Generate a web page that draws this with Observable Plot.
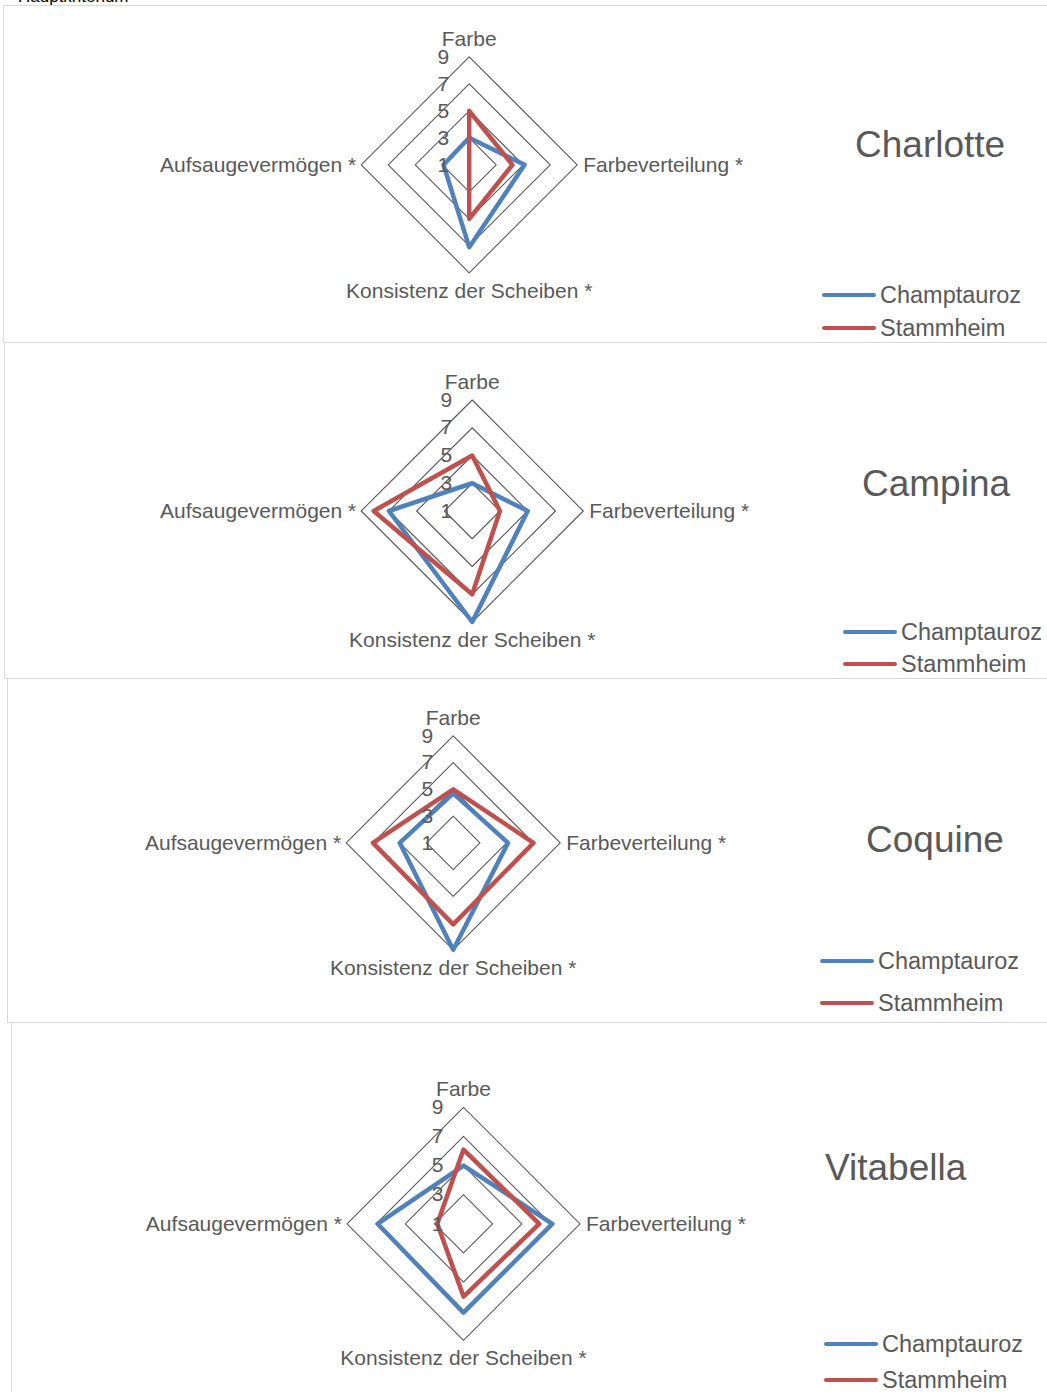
<!DOCTYPE html>
<html>
<head>
<meta charset="utf-8">
<script src="https://cdn.jsdelivr.net/npm/d3@7"></script>
<script src="https://cdn.jsdelivr.net/npm/@observablehq/plot@0.6"></script>
<style>
  html, body { margin: 0; padding: 0; background: #fff; }
  body { width: 1047px; height: 1392px; overflow: hidden; position: relative; font-family: "Liberation Sans", Arial, sans-serif; }
  .panel { position: absolute; border: 1px solid #d9d9d9; box-sizing: border-box; background: #fff; }
  .svgwrap { position: absolute; left: 0; }
  .title { position: absolute; font-size: 37px; color: #595959; line-height: 40px; white-space: nowrap; }
  .legtext { position: absolute; font-size: 23.5px; color: #595959; line-height: 26px; white-space: nowrap; }
  .legline { position: absolute; width: 54px; height: 4.5px; border-radius: 2.5px; }
  .top { position: absolute; left: 18px; top: -12px; font-size: 17px; line-height: 18px; color: #000; }
</style>
</head>
<body>
<div class="top">Hauptkriterium</div>
<script>
// ---- data ----
const axes = ["Farbe", "Farbeverteilung *", "Konsistenz der Scheiben *", "Aufsaugevermögen *"];
const ringValues = [3, 5, 7, 9];
const tickValues = [1, 3, 5, 7, 9];
const seriesNames = ["Champtauroz", "Stammheim"];
const varieties = ["Charlotte", "Campina", "Coquine", "Vitabella"];

const charlotteChamptauroz = [3, 5.1, 7.1, 2.9];
const charlotteStammheim   = [5, 4.2, 5, 1];
const campinaChamptauroz   = [3, 5, 9, 7];
const campinaStammheim     = [5, 3, 7, 8.1];
const coquineChamptauroz   = [4.7, 5.1, 9, 5];
const coquineStammheim     = [5, 7, 7.1, 7];
const vitabellaChamptauroz = [5, 7.1, 7.1, 6.9];
const vitabellaStammheim   = [6.1, 6.2, 6, 2.8];

const seriesValues = [
  [charlotteChamptauroz, charlotteStammheim],
  [campinaChamptauroz, campinaStammheim],
  [coquineChamptauroz, coquineStammheim],
  [vitabellaChamptauroz, vitabellaStammheim]
];

// ---- layout / style ----
const colors = ["#4F81BD", "#C0504D"];
const layouts = [
  {left: 3,  top: 5,    height: 337, cx: 468.7, cy: 164.3,  R: 108,   titleX: 855, titleY: 145,  legX: 822, legY1: 295,  legY2: 328},
  {left: 4,  top: 342,  height: 336, cx: 471.7, cy: 510.5,  R: 111,   titleX: 862, titleY: 484,  legX: 843, legY1: 632,  legY2: 664},
  {left: 7,  top: 678,  height: 344, cx: 452.7, cy: 842.3,  R: 107,   titleX: 866, titleY: 840,  legX: 820, legY1: 961,  legY2: 1003},
  {left: 11, top: 1022, height: 380, cx: 463,   cy: 1223.3, R: 116.5, titleX: 825, titleY: 1168, legX: 824, legY1: 1344, legY2: 1380}
];

const rad = v => (v - 1) / 8;
const ang = i => i * Math.PI / 2;

function panelPlot(p, vals) {
  const rings = ringValues.flatMap(v => axes.map((a, i) => ({ring: v, x: rad(v) * Math.sin(ang(i)), y: rad(v) * Math.cos(ang(i))})));
  const series = seriesNames.flatMap((s, k) => axes.map((a, i) => ({series: s, x: rad(vals[k][i]) * Math.sin(ang(i)), y: rad(vals[k][i]) * Math.cos(ang(i))})));
  const axisPts = axes.map((a, i) => ({label: a, i, x: Math.sin(ang(i)), y: Math.cos(ang(i))}));
  const ticks = tickValues.map(v => ({v, x: 0, y: rad(v)}));
  const textStyle = {fill: "#595959", fontSize: 21};
  return Plot.plot({
    width: 1047,
    height: p.height,
    margin: 0,
    style: {fontFamily: "'Liberation Sans', Arial, sans-serif", background: "transparent", overflow: "visible"},
    x: {type: "linear", domain: [-1, 1], range: [p.cx - p.R, p.cx + p.R], axis: null},
    y: {type: "linear", domain: [-1, 1], range: [p.cy - p.top + p.R, p.cy - p.top - p.R], axis: null},
    color: {domain: seriesNames, range: colors},
    marks: [
      Plot.line(rings, {x: "x", y: "y", z: "ring", curve: "linear-closed", stroke: "#595959", strokeWidth: 1.1}),
      Plot.line(series, {x: "x", y: "y", z: "series", stroke: "series", curve: "linear-closed", strokeWidth: 4.5, strokeLinejoin: "round"}),
      Plot.text(ticks, {x: "x", y: "y", text: d => String(d.v), textAnchor: "end", dx: -20, ...textStyle}),
      Plot.text(axisPts.filter(d => d.i === 0), {x: "x", y: "y", text: "label", textAnchor: "middle", dy: -18, ...textStyle}),
      Plot.text(axisPts.filter(d => d.i === 1), {x: "x", y: "y", text: "label", textAnchor: "start", dx: 6, ...textStyle}),
      Plot.text(axisPts.filter(d => d.i === 2), {x: "x", y: "y", text: "label", textAnchor: "middle", dy: 18, ...textStyle}),
      Plot.text(axisPts.filter(d => d.i === 3), {x: "x", y: "y", text: "label", textAnchor: "end", dx: -5, ...textStyle})
    ]
  });
}

layouts.forEach((p, idx) => {
  const panel = document.createElement("div");
  panel.className = "panel";
  panel.style.left = p.left + "px";
  panel.style.top = p.top + "px";
  panel.style.width = (1047 - p.left + 20) + "px";
  panel.style.height = (p.height + 1) + "px";
  document.body.appendChild(panel);
});

layouts.forEach((p, idx) => {
  const wrap = document.createElement("div");
  wrap.className = "svgwrap";
  wrap.style.top = p.top + "px";
  wrap.appendChild(panelPlot(p, seriesValues[idx]));
  document.body.appendChild(wrap);

  const t = document.createElement("div");
  t.className = "title";
  t.textContent = varieties[idx];
  t.style.left = p.titleX + "px";
  t.style.top = (p.titleY - 20) + "px";
  document.body.appendChild(t);

  [p.legY1, p.legY2].forEach((ly, k) => {
    const l = document.createElement("div");
    l.className = "legline";
    l.style.background = colors[k];
    l.style.left = p.legX + "px";
    l.style.top = (ly - 2.25) + "px";
    document.body.appendChild(l);
    const lt = document.createElement("div");
    lt.className = "legtext";
    lt.textContent = seriesNames[k];
    lt.style.left = (p.legX + 58) + "px";
    lt.style.top = (ly - 13) + "px";
    document.body.appendChild(lt);
  });
});
</script>
</body>
</html>
